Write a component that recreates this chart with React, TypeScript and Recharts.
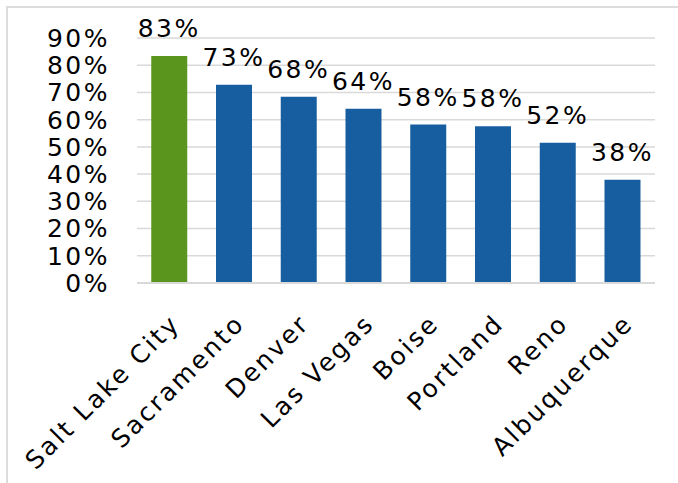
import { Bar, BarChart, CartesianGrid, Cell, LabelList, XAxis, YAxis } from "recharts"

const cities = ["Salt Lake City", "Sacramento", "Denver", "Las Vegas", "Boise", "Portland", "Reno", "Albuquerque"]
const shares = [83.4, 72.8, 68.4, 64.0, 58.2, 57.6, 51.5, 37.9]
const yTicks = [0, 10, 20, 30, 40, 50, 60, 70, 80, 90]

const data = cities.map((city, i) => ({ city, share: shares[i] }))

const FONT = "'DejaVu Sans', sans-serif"
const SPACING = 2.5

const CityTick = ({ x, y, payload }: any) => {
  return (
    <g transform={`translate(${x + 12},${y + 40})`}>
      <text
        transform="rotate(-45)"
        textAnchor="end"
        fill="#000"
        fontSize={25}
        fontFamily={FONT}
        style={{ letterSpacing: SPACING }}
      >
        {payload.value}
      </text>
    </g>
  )
}

export default function App() {
  return (
    <div style={{ position: "fixed", left: 0, top: 0, width: 678, height: 483, background: "#fff", overflow: "hidden" }}>
      <div
        style={{
          position: "absolute",
          left: 6,
          top: 6,
          width: 690,
          height: 500,
          borderLeft: "2px solid #dcdcdc",
          borderTop: "2px solid #dcdcdc",
        }}
      />
      <div style={{ position: "absolute", left: 0, top: 0 }}>
        <BarChart
          width={678}
          height={483}
          data={data}
          margin={{ top: 38, right: 23, left: 0, bottom: 0 }}
          barCategoryGap="22%"
        >
          <CartesianGrid vertical={false} stroke="#d9d9d9" strokeWidth={1.5} />
          <XAxis
            dataKey="city"
            height={200}
            interval={0}
            tickLine={false}
            tickSize={0}
            axisLine={{ stroke: "#d9d9d9", strokeWidth: 2 }}
            tick={<CityTick />}
          />
          <YAxis
            width={137}
            domain={[0, 90]}
            ticks={yTicks}
            interval={0}
            axisLine={false}
            tickLine={false}
            tickSize={0}
            tickMargin={27}
            tickFormatter={(v: number) => `${v}%`}
            tick={{ fill: "#000", fontSize: 25, fontFamily: FONT, style: { letterSpacing: SPACING } }}
          />
          <Bar dataKey="share" isAnimationActive={false}>
            {data.map((d, i) => (
              <Cell key={d.city} fill={i === 0 ? "#5a951e" : "#175ea0"} />
            ))}
            <LabelList
              dataKey="share"
              position="top"
              offset={19}
              formatter={(v: any) => `${Math.round(Number(v))}%`}
              fill="#000"
              fontSize={25}
              fontFamily={FONT}
              style={{ letterSpacing: SPACING }}
            />
          </Bar>
        </BarChart>
      </div>
    </div>
  )
}
